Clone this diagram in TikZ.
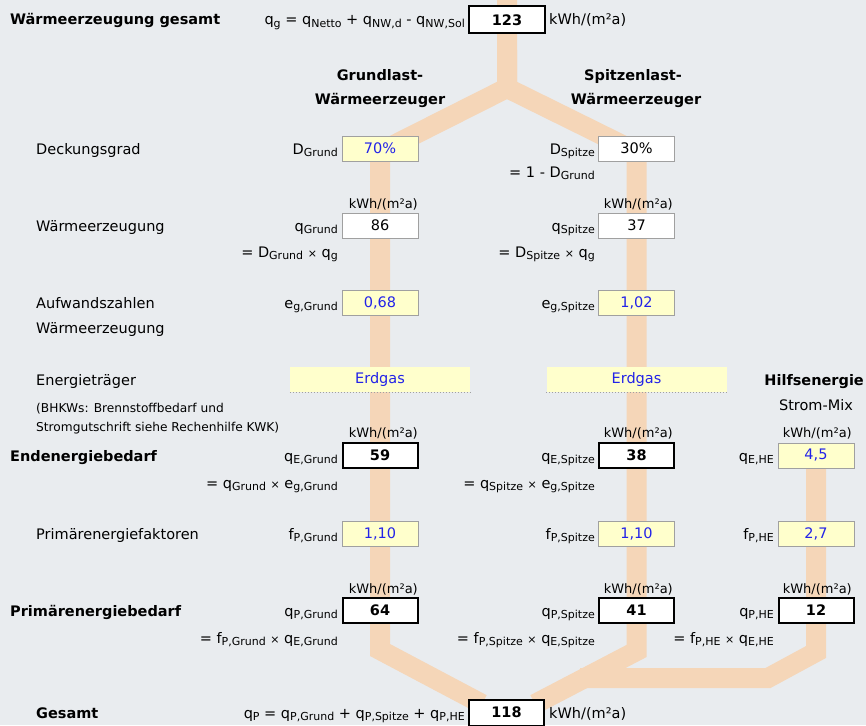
\documentclass[tikz,border=0pt]{standalone}
\usepackage{fontspec}
\setmainfont{DejaVu Sans}
\definecolor{bgc}{HTML}{E9ECEF}
\definecolor{bandc}{HTML}{F5D6B8}
\definecolor{inyel}{HTML}{FFFFCC}
\definecolor{bordc}{HTML}{A0A0A0}
\definecolor{inblue}{HTML}{2323E8}
\newcommand\Sb[2]{#1\raisebox{-2.5pt}{\fontsize{11}{12}\selectfont #2}}
\newcommand\Mx{{\fontsize{11}{12}\selectfont ×}}
\pgfdeclarelayer{bglayer}
\pgfdeclarelayer{flowlayer}
\pgfsetlayers{bglayer,flowlayer,main}
\tikzset{
 txt/.style={inner sep=0pt, font=\fontsize{14.5}{17}\selectfont},
 bld/.style={inner sep=0pt, font=\fontsize{14.5}{17}\selectfont\bfseries},
 sml/.style={inner sep=0pt, font=\fontsize{13}{15}\selectfont},
 bhk/.style={inner sep=0pt, font=\fontsize{12.2}{15}\selectfont},
 vbox/.style={minimum width=76pt, minimum height=25pt, inner sep=0pt, font=\fontsize{14.5}{17}\selectfont, draw=bordc, line width=1pt},
 inbox/.style={vbox, fill=inyel, text=inblue},
 calcbox/.style={vbox, fill=white},
 resbox/.style={vbox, fill=white, draw=black, line width=2pt, minimum width=75pt, font=\fontsize{14.5}{17}\selectfont\bfseries},
 fieldbox/.style={minimum width=180pt, minimum height=25pt, inner sep=0pt, fill=inyel, text=inblue, font=\fontsize{14.5}{17}\selectfont},
 flow/.style={draw=bandc, line width=20pt},
}
\begin{document}
\begin{tikzpicture}[x=1pt,y=-1pt]
\begin{pgfonlayer}{bglayer}
\fill[bgc] (0,0) rectangle (866,725);
\end{pgfonlayer}
\useasboundingbox (0,0) rectangle (866,725);

% ---- top row
\node[bld, anchor=base west] (tTitle) at (10,25) {Wärmeerzeugung gesamt};
\node[txt, anchor=base east] (tFg) at (465,25) {\Sb{q}{g} = \Sb{q}{Netto} + \Sb{q}{NW,d} - \Sb{q}{NW,Sol}};
\node[resbox, minimum width=76pt, minimum height=27pt] (b123) at (507,20) {123};
\node[txt, anchor=base west] (tU1) at (549,25) {kWh/(m²a)};

% ---- headers
\node[bld, anchor=base] (hG1) at (380,80) {Grundlast-};
\node[bld, anchor=base] (hG2) at (380,104) {Wärmeerzeuger};
\node[bld, anchor=base] (hS1) at (633,80) {Spitzenlast-};
\node[bld, anchor=base] (hS2) at (636,104) {Wärmeerzeuger};

% ---- left labels
\node[txt, anchor=base west] (lD) at (36,154) {Deckungsgrad};
\node[txt, anchor=base west] (lW) at (36,231) {Wärmeerzeugung};
\node[txt, anchor=base west] (lA1) at (36,308) {Aufwandszahlen};
\node[txt, anchor=base west] (lA2) at (36,333) {Wärmeerzeugung};
\node[txt, anchor=base west] (lEt) at (36,385) {Energieträger};
\node[bhk, anchor=base west] (lB1) at (36,412.5) {(BHKWs: Brennstoffbedarf und};
\node[bhk, anchor=base west] (lB2) at (36,431.5) {Stromgutschrift siehe Rechenhilfe KWK)};
\node[bld, anchor=base west] (lEb) at (10,461) {Endenergiebedarf};
\node[txt, anchor=base west] (lPf) at (36,539) {Primärenergiefaktoren};
\node[bld, anchor=base west] (lPb) at (10,616) {Primärenergiebedarf};
\node[bld, anchor=base west] (lG) at (36,718) {Gesamt};

% ---- Hilfsenergie header
\node[bld, anchor=base east] (hH1) at (864,385) {Hilfsenergie};
\node[txt, anchor=base] (hH2) at (816,410) {Strom-Mix};

% ---- boxes
\node[inbox] (bD1) at (380,148.5) {70\%};
\node[calcbox] (bD2) at (636.5,148.5) {30\%};
\node[calcbox] (bq1) at (380,225.5) {86};
\node[calcbox] (bq2) at (636.5,225.5) {37};
\node[inbox] (be1) at (380,302.5) {0,68};
\node[inbox] (be2) at (636.5,302.5) {1,02};
\node[fieldbox] (fE1) at (380,379.5) {Erdgas};
\node[fieldbox] (fE2) at (636.5,379.5) {Erdgas};
\draw[bordc, dotted, line width=1pt] (fE1.south west) -- (fE1.south east);
\draw[bordc, dotted, line width=1pt] (fE2.south west) -- (fE2.south east);
\node[resbox] (bE1) at (380,455.5) {59};
\node[resbox] (bE2) at (636.5,455.5) {38};
\node[inbox] (bE3) at (816,455.5) {4,5};
\node[inbox] (bf1) at (380,533.5) {1,10};
\node[inbox] (bf2) at (636.5,533.5) {1,10};
\node[inbox] (bf3) at (816,533.5) {2,7};
\node[resbox] (bP1) at (380,610) {64};
\node[resbox] (bP2) at (636.5,610) {41};
\node[resbox] (bP3) at (816,610) {12};
\node[resbox, minimum height=26pt] (b118) at (506.5,712.5) {118};

% ---- box labels
\node[txt, anchor=base east] (xD1) at (338,154) {\Sb{D}{Grund}};
\node[txt, anchor=base east] (xD2) at (595,154) {\Sb{D}{Spitze}};
\node[txt, anchor=base east] (xD3) at (595,177) {= 1 - \Sb{D}{Grund}};
\node[txt, anchor=base east] (xq1) at (338,231) {\Sb{q}{Grund}};
\node[txt, anchor=base east] (xq2) at (595,231) {\Sb{q}{Spitze}};
\node[txt, anchor=base east] (xq3) at (338,257) {= \Sb{D}{Grund} \Mx{} \Sb{q}{g}};
\node[txt, anchor=base east] (xq4) at (595,257) {= \Sb{D}{Spitze} \Mx{} \Sb{q}{g}};
\node[txt, anchor=base east] (xe1) at (338,308) {\Sb{e}{g,Grund}};
\node[txt, anchor=base east] (xe2) at (595,308) {\Sb{e}{g,Spitze}};
\node[txt, anchor=base east] (xE1) at (338,461) {\Sb{q}{E,Grund}};
\node[txt, anchor=base east] (xE2) at (595,461) {\Sb{q}{E,Spitze}};
\node[txt, anchor=base east] (xE3) at (774,461) {\Sb{q}{E,HE}};
\node[txt, anchor=base east] (xE4) at (338,488) {= \Sb{q}{Grund} \Mx{} \Sb{e}{g,Grund}};
\node[txt, anchor=base east] (xE5) at (595,488) {= \Sb{q}{Spitze} \Mx{} \Sb{e}{g,Spitze}};
\node[txt, anchor=base east] (xf1) at (338,539) {\Sb{f}{P,Grund}};
\node[txt, anchor=base east] (xf2) at (595,539) {\Sb{f}{P,Spitze}};
\node[txt, anchor=base east] (xf3) at (774,539) {\Sb{f}{P,HE}};
\node[txt, anchor=base east] (xP1) at (338,616) {\Sb{q}{P,Grund}};
\node[txt, anchor=base east] (xP2) at (595,616) {\Sb{q}{P,Spitze}};
\node[txt, anchor=base east] (xP3) at (774,616) {\Sb{q}{P,HE}};
\node[txt, anchor=base east] (xP4) at (338,643) {= \Sb{f}{P,Grund} \Mx{} \Sb{q}{E,Grund}};
\node[txt, anchor=base east] (xP5) at (595,643) {= \Sb{f}{P,Spitze} \Mx{} \Sb{q}{E,Spitze}};
\node[txt, anchor=base east] (xP6) at (774,643) {= \Sb{f}{P,HE} \Mx{} \Sb{q}{E,HE}};
\node[txt, anchor=base east] (xT) at (465,718) {\Sb{q}{P} = \Sb{q}{P,Grund} + \Sb{q}{P,Spitze} + \Sb{q}{P,HE}};
\node[txt, anchor=base west] (tU2) at (549,718) {kWh/(m²a)};

% ---- unit labels above boxes
\node[sml, anchor=base east] (u1) at (418,208) {kWh/(m²a)};
\node[sml, anchor=base east] (u2) at (673,208) {kWh/(m²a)};
\node[sml, anchor=base east] (u3) at (418,437) {kWh/(m²a)};
\node[sml, anchor=base east] (u4) at (673,437) {kWh/(m²a)};
\node[sml, anchor=base east] (u5) at (852,437) {kWh/(m²a)};
\node[sml, anchor=base east] (u6) at (418,593) {kWh/(m²a)};
\node[sml, anchor=base east] (u7) at (673,593) {kWh/(m²a)};
\node[sml, anchor=base east] (u8) at (852,593) {kWh/(m²a)};

% ---- flow bands
\coordinate (ctop) at (507,-5);
\coordinate (cup) at (507,50);
\coordinate (split) at (507,88);
\coordinate (gturn) at (380,152);
\coordinate (sturn) at (636.5,152);
\coordinate (gbend) at (380,650);
\coordinate (sbend) at (636.5,651);
\coordinate (gin) at (482,704);
\coordinate (sin) at (535,704);
\coordinate (hbend) at (816,652);
\coordinate (hjoin) at (768,678);
\coordinate (hend) at (580,678);
\begin{pgfonlayer}{flowlayer}
\draw[flow] (ctop) -- (b123.center) -- (split) -- (gturn) -- (bP1.center) -- (gbend) -- (gin);
\draw[flow] (cup) -- (split) -- (sturn) -- (bP2.center) -- (sbend) -- (sin);
\draw[flow] (bE3.center) -- (bP3.center) -- (hbend) -- (hjoin) -- (hend);
\end{pgfonlayer}
\end{tikzpicture}
\end{document}
